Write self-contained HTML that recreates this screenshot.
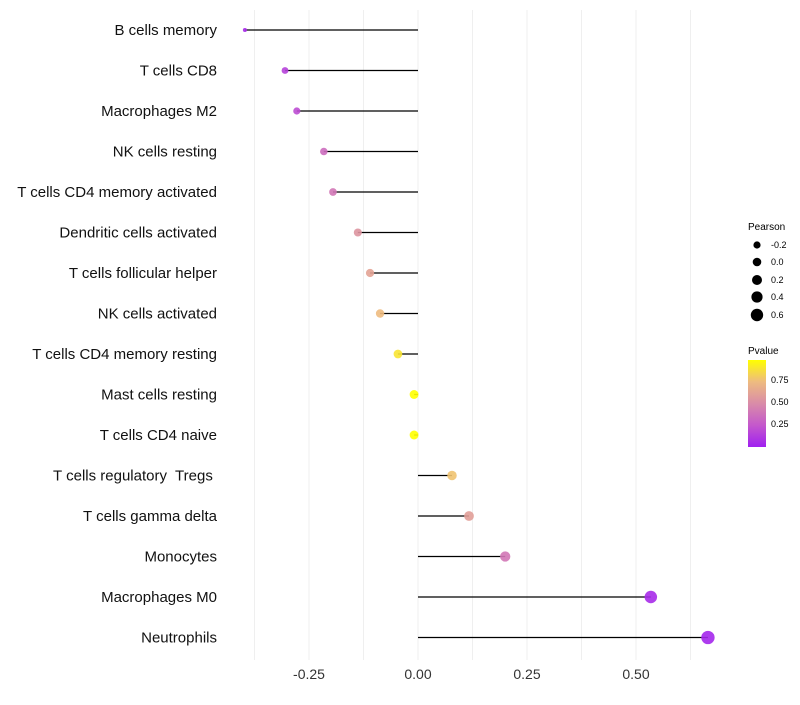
<!DOCTYPE html>
<html><head><meta charset="utf-8"><style>
body{margin:0;background:#fff;font-family:"Liberation Sans",sans-serif}
</style></head><body>
<svg id="chart" width="800" height="700" xmlns="http://www.w3.org/2000/svg">
<defs><linearGradient id="pg" x1="0" y1="1" x2="0" y2="0">
<stop offset="0" stop-color="#a020f0"/><stop offset="0.25" stop-color="#c458cc"/><stop offset="0.5" stop-color="#d98ca8"/><stop offset="0.75" stop-color="#eebb80"/><stop offset="1" stop-color="#ffff00"/>
</linearGradient></defs>
<g id="grid"></g><g id="marks"></g><g id="labels"></g>
<g font-size="9" fill="#000">
<text x="748" y="230" font-size="10">Pearson</text>
<circle cx="757" cy="245" r="3.6"/><text x="771" y="248">-0.2</text>
<circle cx="757" cy="262" r="4.3"/><text x="771" y="265">0.0</text>
<circle cx="757" cy="280" r="5"/><text x="771" y="283">0.2</text>
<circle cx="757" cy="297" r="5.6"/><text x="771" y="300">0.4</text>
<circle cx="757" cy="315" r="6.2"/><text x="771" y="318">0.6</text>
</g>
<g font-size="9">
<text x="748" y="354" font-size="10">Pvalue</text>
<rect x="748" y="360" width="18" height="87" fill="url(#pg)"/>
<text x="771" y="383">0.75</text><text x="771" y="405">0.50</text><text x="771" y="427">0.25</text>
</g>
</svg>
<script>
const categories=["B cells memory","T cells CD8","Macrophages M2","NK cells resting","T cells CD4 memory activated","Dendritic cells activated","T cells follicular helper","NK cells activated","T cells CD4 memory resting","Mast cells resting","T cells CD4 naive","T cells regulatory  Tregs ","T cells gamma delta","Monocytes","Macrophages M0","Neutrophils"];
const pearson=[-0.397,-0.305,-0.278,-0.216,-0.195,-0.138,-0.110,-0.087,-0.046,-0.009,-0.009,0.078,0.117,0.200,0.534,0.665];
const pvalue=[0.05,0.15,0.2,0.35,0.4,0.55,0.62,0.75,0.9,1.0,1.0,0.78,0.6,0.4,0.05,0.03];
const xTicks=[-0.25,0,0.25,0.5];
const xTickLabels=["-0.25","0.00","0.25","0.50"];
const ns="http://www.w3.org/2000/svg";
const X=v=>418+v*436, Y=i=>30+i*40.5;
const R=v=>v< -0.3 ? Math.max(2,3.5+(v+0.3)*15) : 3.5+(v+0.3)*3.3;
const stops=[[0,[160,32,240]],[0.25,[196,88,204]],[0.5,[217,140,168]],[0.75,[238,187,128]],[1,[255,255,0]]];
function col(p){for(let k=0;k<stops.length-1;k++){const a=stops[k],b=stops[k+1];if(p<=b[0]){const t=(p-a[0])/(b[0]-a[0]);return "rgb("+a[1].map((c,j)=>Math.round(c+(b[1][j]-c)*t)).join(",")+")";}}return "rgb(255,255,0)";}
function mk(t,at,parent){const e=document.createElementNS(ns,t);for(const k in at)e.setAttribute(k,at[k]);parent.appendChild(e);return e;}
const grid=document.getElementById('grid'),marks=document.getElementById('marks'),labels=document.getElementById('labels');
for(let v=-0.375;v<=0.626;v+=0.125){const l=mk('line',{x1:X(v),x2:X(v),y1:10,y2:660,stroke:'#efefef','stroke-width':1},grid);

}
xTicks.forEach((v,i)=>{const t=mk('text',{x:X(v),y:679,'text-anchor':'middle','font-size':14,fill:'#333'},labels);t.textContent=xTickLabels[i];

});
categories.forEach((c,i)=>{
const t=mk('text',{x:217,y:Y(i)+5,'text-anchor':'end','font-size':15,fill:'#111'},labels);t.textContent=c;
t.setAttribute('xml:space','preserve');
t.style.whiteSpace='pre';


const l=mk('line',{x1:X(0),x2:X(pearson[i]),y1:Y(i),y2:Y(i),stroke:'#000','stroke-width':1.2},marks);


const d=mk('circle',{cx:X(pearson[i]),cy:Y(i),r:R(pearson[i]),fill:col(pvalue[i]),'fill-opacity':0.9},marks);


});
</script>
</body></html>
